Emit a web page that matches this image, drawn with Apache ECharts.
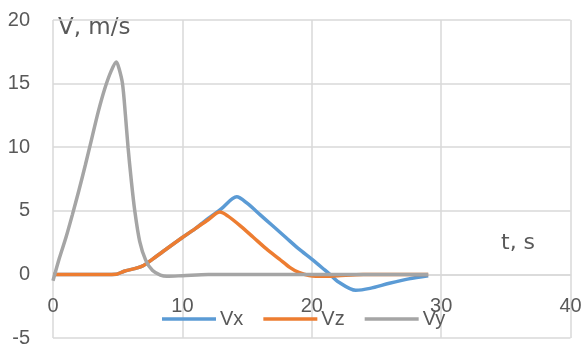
<!DOCTYPE html>
<html><head><meta charset="utf-8">
<script src="https://cdn.jsdelivr.net/npm/echarts@6/dist/echarts.min.js"></script>
<style>html,body{margin:0;padding:0;background:#fff}#c{width:585px;height:349px}</style>
</head><body><div id="c"></div>
<script>
const xTicks = [0, 10, 20, 30, 40];
const yTicks = [-5, 0, 5, 10, 15, 20];
const seriesNames = ['Vx', 'Vz', 'Vy'];
const vxT = [0,1,2,3,4,4.9,5.5,6.3,7,7.7,8.5,10,11,12,13,14.2,15,16,17,18,19,20,21,21.4,22,23.4,24.5,26,27.5,29];
const vxV = [0,0,0,0,0,0.02,0.25,0.45,0.7,1.2,1.8,2.9,3.6,4.4,5.15,6.1,5.6,4.7,3.8,2.9,2.0,1.2,0.35,0,-0.55,-1.25,-1.1,-0.7,-0.35,-0.1];
const vzT = [0,1,2,3,4,4.9,5.5,6.3,7,7.7,8.5,10,11,12,12.9,13.5,14.5,15.5,16.5,17.5,18.3,19,19.8,21,22,24,29];
const vzV = [0,0,0,0,0,0.02,0.25,0.45,0.7,1.2,1.8,2.9,3.6,4.3,4.9,4.6,3.8,2.9,2.0,1.2,0.55,0.15,-0.08,-0.15,-0.1,0,0];
const vyT = [0,0.5,1,1.5,2,2.5,3,3.5,4,4.5,4.9,5.1,5.37,5.6,5.8,6.05,6.32,6.7,7.17,7.7,8.3,8.8,10,12,29];
const vyV = [-0.5,1.3,2.9,4.7,6.6,8.6,10.7,12.8,14.6,16.0,16.7,16.2,15,12.5,10,7.4,5,2.6,1.1,0.3,-0.05,-0.15,-0.1,0,0];
const pair = (t, v) => t.map((x, i) => [x, v[i]]);
const colors = ['#5B9BD5', '#ED7D31', '#A5A5A5'];
const font = 'Liberation Sans';
const gridTop = 20, gridBottom = 11, H = 349;
const plotH = H - gridTop - gridBottom;
const zeroOffset = -plotH * (0 - yTicks[0]) / (yTicks[yTicks.length - 1] - yTicks[0]);
const chart = echarts.init(document.getElementById('c'));
const mk = (name, data, color) => ({
  name, type: 'line', data, smooth: 0.3, showSymbol: false,
  lineStyle: { color, width: 3.5 }, itemStyle: { color }
});
chart.setOption({
  animation: false,
  grid: { left: 53, right: 14.5, top: gridTop, bottom: gridBottom, containLabel: false, outerBoundsMode: 'none' },
  xAxis: {
    type: 'value', min: xTicks[0], max: xTicks[xTicks.length - 1], interval: 10,
    position: 'bottom', offset: zeroOffset,
    axisLine: { show: true, onZero: false, lineStyle: { color: '#D9D9D9', width: 1.5 } },
    axisTick: { show: false },
    axisLabel: { color: '#595959', fontSize: 20, fontFamily: font, margin: 22 },
    splitLine: { show: true, lineStyle: { color: '#D9D9D9', width: 1.5 } }
  },
  yAxis: {
    type: 'value', min: yTicks[0], max: yTicks[yTicks.length - 1], interval: 5,
    axisLine: { show: false, onZero: false }, axisTick: { show: false },
    axisLabel: { color: '#595959', fontSize: 20, fontFamily: font, margin: 23 },
    splitLine: { show: true, lineStyle: { color: '#D9D9D9', width: 1.5 } }
  },
  legend: {
    data: seriesNames, left: 162, top: 309, icon: 'rect', itemWidth: 54, itemHeight: 3.5,
    itemGap: 20, padding: 0, textStyle: { color: '#595959', fontSize: 20, fontFamily: font, padding: [0, 0, 0, -1] }
  },
  graphic: [
    { type: 'text', left: 58, top: 17, style: { text: 'V, m/s', fill: '#595959', font: '23px "DejaVu Sans"' } },
    { type: 'text', left: 501, top: 232, style: { text: 't, s', fill: '#595959', font: '22px "DejaVu Sans"' } }
  ],
  series: [
    mk(seriesNames[0], pair(vxT, vxV), colors[0]),
    mk(seriesNames[1], pair(vzT, vzV), colors[1]),
    mk(seriesNames[2], pair(vyT, vyV), colors[2])
  ]
});
</script></body></html>
